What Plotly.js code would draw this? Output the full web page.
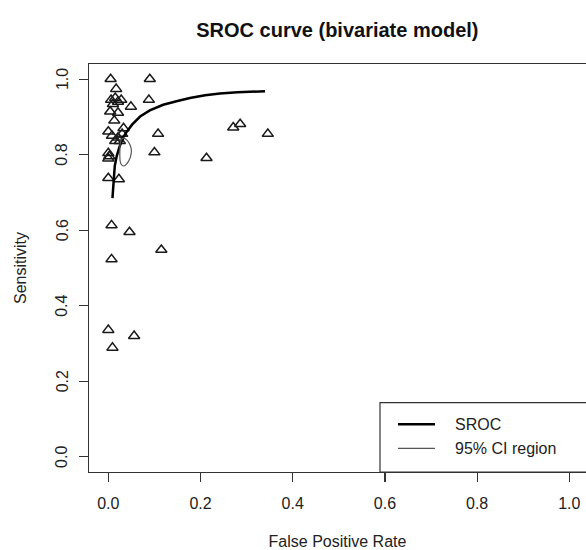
<!DOCTYPE html>
<html>
<head>
<meta charset="utf-8">
<script src="https://cdn.plot.ly/plotly-3.0.1.min.js"></script>
<style>html,body{margin:0;padding:0;background:#fff;}#chart{width:586px;height:550px;}</style>
</head>
<body>
<div id="chart"></div>
<script>
// Study points (False Positive Rate, Sensitivity)
const studyFPR = [0.005,0.090,0.017,0.006,0.015,0.021,0.028,0.010,0.049,0.088,0.004,0.021,0.013,0.000,0.033,0.108,0.008,0.021,0.030,0.015,0.025,0.100,0.000,0.002,0.000,0.213,0.271,0.286,0.346,0.000,0.023,0.007,0.046,0.115,0.007,0.000,0.056,0.009];
const studySens = [1.000,1.000,0.974,0.945,0.950,0.940,0.945,0.934,0.927,0.945,0.914,0.911,0.890,0.861,0.870,0.855,0.850,0.845,0.855,0.836,0.836,0.806,0.804,0.796,0.790,0.791,0.872,0.881,0.855,0.738,0.735,0.613,0.595,0.548,0.523,0.336,0.320,0.289];

// SROC curve
const srocFPR  = [0.009,0.011,0.014,0.018,0.024,0.032,0.040,0.052,0.069,0.090,0.119,0.150,0.177,0.210,0.242,0.280,0.340];
const srocSens = [0.685,0.730,0.770,0.795,0.820,0.845,0.861,0.880,0.901,0.917,0.932,0.942,0.950,0.957,0.962,0.965,0.968];

// 95% confidence region
const ciFPR  = [0.032,0.041,0.047,0.050,0.049,0.045,0.040,0.034,0.029,0.026,0.025,0.025,0.026,0.029,0.032];
const ciSens = [0.844,0.838,0.826,0.812,0.799,0.785,0.776,0.770,0.773,0.781,0.795,0.807,0.831,0.841,0.844];

const seriesNames = ["SROC", "95% CI region"];
const xTicks = [0, 0.2, 0.4, 0.6, 0.8, 1.0];
const yTicks = [0, 0.2, 0.4, 0.6, 0.8, 1.0];

const FONT = "Liberation Sans, Arial, Helvetica, sans-serif";
const srocStyle = {color: "#000", width: 2.5};
const ciStyle = {color: "#555", width: 1.2};

const traces = [
  {x: studyFPR, y: studySens, type: "scatter", mode: "markers", showlegend: false,
   marker: {symbol: "triangle-up-open", size: 9.8, color: "#1a1a1a", line: {width: 1.5, color: "#1a1a1a"}}},
  {x: srocFPR, y: srocSens, type: "scatter", mode: "lines", name: seriesNames[0], showlegend: false,
   line: srocStyle},
  {x: ciFPR, y: ciSens, type: "scatter", mode: "lines", name: seriesNames[1], showlegend: false,
   line: Object.assign({shape: "spline"}, ciStyle)}
];

// Legend box drawn in paper coordinates (bottom-right, like R's legend)
const legendBox = {x0: 0.5855, x1: 1.02, y0: 0, y1: 0.1702};
const legendRows = [0.117, 0.0581];
const shapes = [
  {type: "rect", xref: "paper", yref: "paper", x0: legendBox.x0, x1: legendBox.x1, y0: legendBox.y0, y1: legendBox.y1,
   line: {color: "#333", width: 1.2}, fillcolor: "#fff", layer: "above"},
  {type: "line", xref: "paper", yref: "paper", x0: 0.6217, x1: 0.6962, y0: legendRows[0], y1: legendRows[0], line: srocStyle},
  {type: "line", xref: "paper", yref: "paper", x0: 0.6217, x1: 0.6962, y0: legendRows[1], y1: legendRows[1], line: ciStyle}
];
const legendText = seriesNames.map((n, i) => ({
  text: n, xref: "paper", yref: "paper", x: 0.7318, y: legendRows[i], xanchor: "left", yanchor: "middle",
  showarrow: false, font: {family: FONT, size: 16, color: "#222"}
}));
// Y tick labels, rotated like R's default (las = 0)
const yTickText = yTicks.map(v => ({
  text: v.toFixed(1), xref: "paper", yref: "y", x: -0.0543, y: v, xanchor: "center", yanchor: "middle",
  textangle: -90, showarrow: false, font: {family: FONT, size: 16, color: "#222"}
}));

const layout = {
  width: 586, height: 550,
  margin: {l: 89, r: 0, t: 64, b: 78.3, autoexpand: false},
  paper_bgcolor: "#fff", plot_bgcolor: "#fff",
  font: {family: FONT, size: 16, color: "#222"},
  showlegend: false,
  title: {text: "SROC curve (bivariate model)", x: 0.5757, xanchor: "center", y: 0.946, yanchor: "middle",
          font: {family: FONT, size: 20, weight: 700, color: "#111"}},
  xaxis: {range: [-0.0419, 1.0362], tickvals: xTicks, ticktext: xTicks.map(v => v.toFixed(1)),
          showgrid: false, zeroline: false, showline: true, mirror: true, linecolor: "#333", linewidth: 1.2,
          ticks: "outside", ticklen: 9, tickwidth: 1.2, tickcolor: "#333", ticklabelstandoff: 8,
          tickfont: {size: 16, color: "#222"},
          title: {text: "False Positive Rate", font: {size: 16, color: "#222"}, standoff: 26}},
  yaxis: {range: [-0.04, 1.04], tickvals: yTicks, showticklabels: false,
          showgrid: false, zeroline: false, showline: true, mirror: false, linecolor: "#333", linewidth: 1.2,
          ticks: "outside", ticklen: 9, tickwidth: 1.2, tickcolor: "#333",
          title: {text: "Sensitivity", font: {size: 16, color: "#222"}, standoff: 48}},
  shapes: shapes,
  annotations: legendText.concat(yTickText)
};

Plotly.newPlot("chart", traces, layout, {displayModeBar: false, staticPlot: true});
</script>
</body>
</html>
